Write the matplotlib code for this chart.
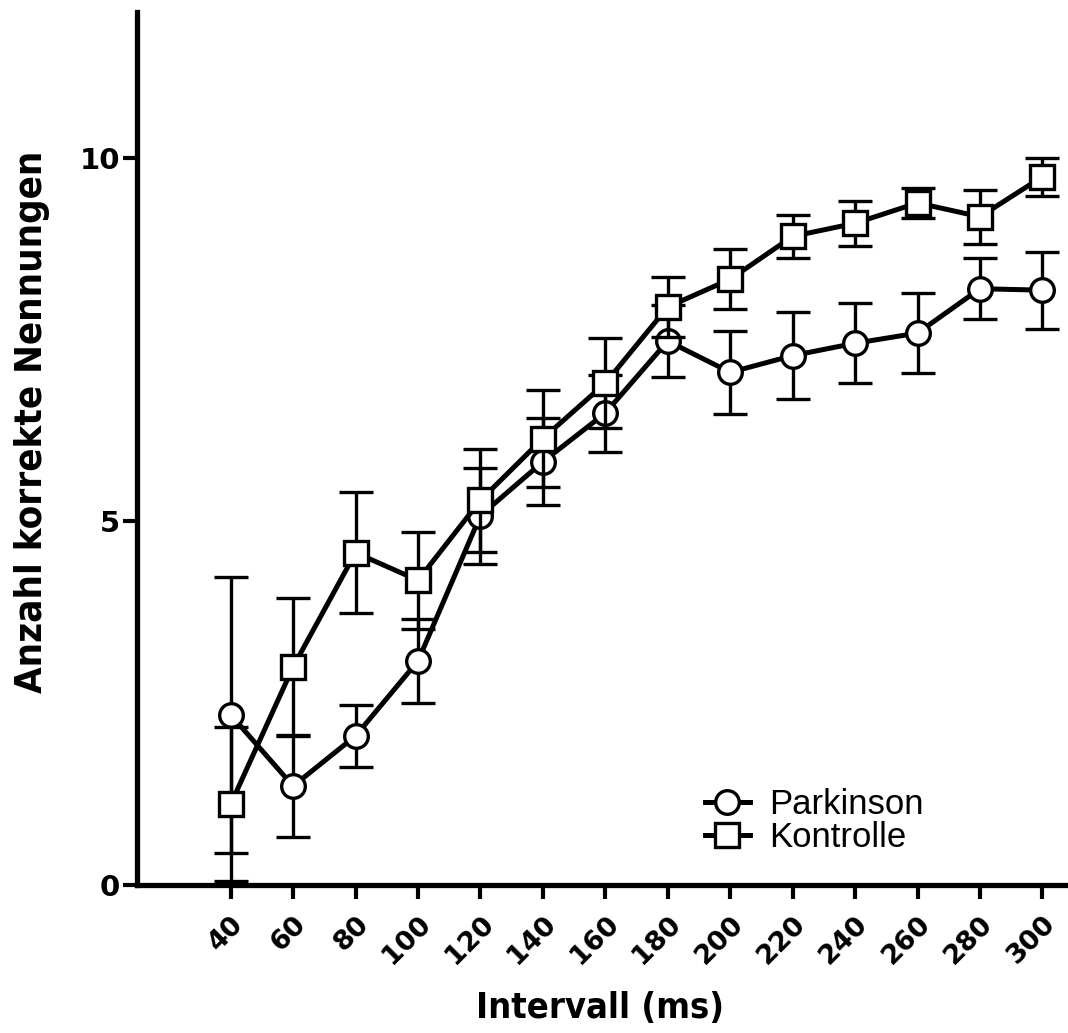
import matplotlib
matplotlib.use("Agg")
import matplotlib.pyplot as plt
from matplotlib.font_manager import FontProperties
from matplotlib.lines import Line2D

intervals = [40, 60, 80, 100, 120, 140, 160, 180, 200, 220, 240, 260, 280, 300]
parkinson = [2.34, 1.36, 2.05, 3.08, 5.08, 5.82, 6.49, 7.48, 7.05, 7.28, 7.45, 7.59, 8.20, 8.18]
parkinson_err = [1.90, 0.70, 0.43, 0.58, 0.66, 0.60, 0.53, 0.49, 0.57, 0.60, 0.55, 0.55, 0.42, 0.53]
kontrolle = [1.11, 3.00, 4.57, 4.19, 5.29, 6.14, 6.90, 7.95, 8.33, 8.92, 9.10, 9.38, 9.19, 9.74]
kontrolle_err = [1.06, 0.95, 0.83, 0.67, 0.71, 0.67, 0.62, 0.41, 0.41, 0.30, 0.31, 0.21, 0.37, 0.26]
y_ticks = [0, 5, 10]

fig = plt.figure(figsize=(10.68, 10.33), dpi=100)
ax = fig.add_axes([0.128, 0.1433, 0.872, 0.8447])

common = dict(color="black", lw=3.6, ms=17, mfc="white", mec="black", mew=2.4,
              elinewidth=2.4, capsize=12, capthick=2.6, ecolor="black")
ax.errorbar(intervals, parkinson, yerr=parkinson_err, marker="o", zorder=3, **common)
ax.errorbar(intervals, kontrolle, yerr=kontrolle_err, marker="s", zorder=4, **common)

ax.set_xlim(9.9, 308.2)
ax.set_ylim(0, 12)
ax.spines["top"].set_visible(False)
ax.spines["right"].set_visible(False)
for s in ("left", "bottom"):
    ax.spines[s].set_linewidth(3.8)

ax.set_xticks(intervals)
ax.set_xticklabels([str(v) for v in intervals])
ax.set_yticks(y_ticks)
ax.set_yticklabels([str(v) for v in y_ticks])
ax.tick_params(axis="both", width=3.0, length=10, direction="out")
ax.tick_params(axis="y", pad=2)
ax.tick_params(axis="x", pad=9)

for lab in ax.get_yticklabels():
    lab.set_fontproperties(FontProperties(family="DejaVu Sans", weight="bold", size=21))
for lab in ax.get_xticklabels():
    lab.set_fontproperties(FontProperties(family="DejaVu Sans", weight="bold", size=19.5))
    lab.set_rotation(45)
    lab.set_ha("right")
    lab.set_va("top")
    lab.set_rotation_mode("anchor")

fig.text(0.562, 0.024, "Intervall (ms)", ha="center", va="center",
         fontproperties=FontProperties(family="DejaVu Sans", weight="bold", stretch="condensed", size=26))
fig.text(0.030, 0.592, "Anzahl korrekte Nennungen", ha="center", va="center", rotation=90,
         fontproperties=FontProperties(family="DejaVu Sans", weight="bold", stretch="condensed", size=27.5))

handles = [
    Line2D([], [], color="black", lw=3.6, marker="o", ms=17, mfc="white", mec="black", mew=2.4),
    Line2D([], [], color="black", lw=3.6, marker="s", ms=17, mfc="white", mec="black", mew=2.4),
]
ax.legend(handles, ["Parkinson", "Kontrolle"], loc="upper left", bbox_to_anchor=(0.61, 0.111),
          frameon=False, prop=FontProperties(family="Liberation Sans", size=25),
          handlelength=1.3, handletextpad=0.55, labelspacing=0.0,
          borderpad=0, borderaxespad=0)

fig.savefig("out.png", dpi=100)
